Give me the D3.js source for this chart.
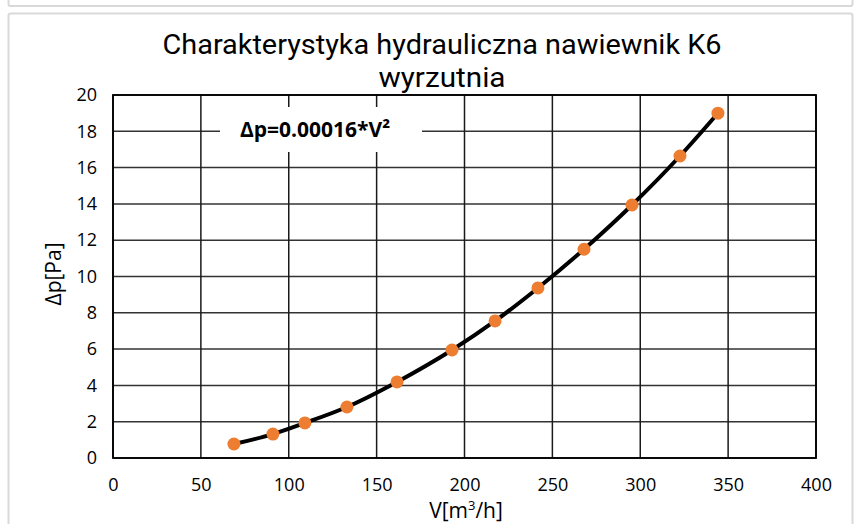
<!DOCTYPE html>
<html><head><meta charset="utf-8">
<script src="https://cdn.jsdelivr.net/npm/d3@7"></script>
<style>
body{margin:0;background:#fff;}
svg{display:block;}
text{font-family:"Open Sans","Noto Sans",sans-serif;fill:#000;}
</style></head>
<body>
<svg id="c" width="856" height="524"></svg>
<script>
const titleLines = ["Charakterystyka hydrauliczna nawiewnik K6", "wyrzutnia"];
const xTicks = [0, 50, 100, 150, 200, 250, 300, 350, 400];
const yTicks = [0, 2, 4, 6, 8, 10, 12, 14, 16, 18, 20];
const flowV = [68.8, 91.0, 109.2, 133.1, 161.6, 192.9, 217.4, 241.8, 268.0, 295.3, 322.6, 344.2];
const dpValues = [0.77, 1.32, 1.93, 2.81, 4.19, 5.95, 7.55, 9.37, 11.5, 13.94, 16.64, 19.0];
const equation = "Δp=0.00016*V²";
const xTitle = ["V[m", "3", "/h]"];
const yTitle = "Δp[Pa]";

const svg = d3.select("#c");
const m = {l:113, r:816, t:95, b:458};

// outer frames
svg.append("rect").attr("x",8.5).attr("y",-20).attr("width",844).attr("height",26).attr("rx",2)
  .attr("fill","none").attr("stroke","#d9d9d9").attr("stroke-width",2);
svg.append("rect").attr("x",8.5).attr("y",13.5).attr("width",844).attr("height",600).attr("rx",2)
  .attr("fill","#fff").attr("stroke","#d9d9d9").attr("stroke-width",2);

const x = d3.scaleLinear().domain([0,400]).range([m.l, m.r]);
const y = d3.scaleLinear().domain([0,20]).range([m.b, m.t]);

// gridlines
const g = svg.append("g");
g.selectAll(".hg").data(yTicks).join("line")
  .attr("x1",m.l).attr("x2",m.r).attr("y1",d=>y(d)).attr("y2",d=>y(d))
  .attr("stroke","#333").attr("stroke-width",1.5);
g.selectAll(".vg").data(xTicks).join("line")
  .attr("y1",m.t).attr("y2",m.b).attr("x1",d=>x(d)).attr("x2",d=>x(d))
  .attr("stroke","#1a1a1a").attr("stroke-width",1.5);
svg.append("rect").attr("x",m.l).attr("y",m.t).attr("width",m.r-m.l).attr("height",m.b-m.t)
  .attr("fill","none").attr("stroke","#000").attr("stroke-width",1.8);

// axes tick labels via d3 axes
const ff = '"Open Sans","Noto Sans",sans-serif';
const xa = svg.append("g").attr("transform",`translate(0,${m.b})`)
  .call(d3.axisBottom(x).tickValues(xTicks).tickSize(0).tickPadding(20));
xa.select(".domain").remove();
xa.selectAll("text").attr("font-size",18).style("font-family",ff).attr("fill","#000");
const ya = svg.append("g").attr("transform",`translate(${m.l},0)`)
  .call(d3.axisLeft(y).tickValues(yTicks).tickSize(0).tickPadding(16));
ya.select(".domain").remove();
ya.selectAll("text").attr("font-size",18).style("font-family",ff).attr("fill","#000");

// title (two lines)
const tf = 'Roboto,"Open Sans",sans-serif';
svg.append("text").attr("x",442).attr("y",54).attr("text-anchor","middle").attr("font-size",28)
  .style("font-family",tf).attr("textLength",559).attr("lengthAdjust","spacingAndGlyphs").text(titleLines[0]);
svg.append("text").attr("x",442).attr("y",87).attr("text-anchor","middle").attr("font-size",28)
  .style("font-family",tf).attr("textLength",127).attr("lengthAdjust","spacingAndGlyphs").text(titleLines[1]);

// axis titles
svg.append("text").attr("transform","translate(61,274) rotate(-90)").attr("text-anchor","middle").attr("font-size",21).text(yTitle);
const xt = svg.append("text").attr("x",466).attr("y",518).attr("text-anchor","middle").attr("font-size",21);
xt.append("tspan").text(xTitle[0]);
xt.append("tspan").attr("font-size",13).attr("dy",-8).text(xTitle[1]);
xt.append("tspan").attr("dy",8).text(xTitle[2]);

// curve
const pts = flowV.map((v,i)=>[v, dpValues[i]]);
svg.append("path").datum(pts)
  .attr("d", d3.line().x(d=>x(d[0])).y(d=>y(d[1])).curve(d3.curveMonotoneX))
  .attr("fill","none").attr("stroke","#000").attr("stroke-width",4);
svg.selectAll(".pt").data(pts).join("circle")
  .attr("cx",d=>x(d[0])).attr("cy",d=>y(d[1])).attr("r",6.5)
  .attr("fill","#ED7D31");

// equation label
svg.append("rect").attr("x",220).attr("y",107).attr("width",202).attr("height",45).attr("fill","#fff");
svg.append("text").attr("x",315).attr("y",137).attr("text-anchor","middle").attr("font-size",21).attr("font-weight","bold").text(equation);
</script>
</body></html>
